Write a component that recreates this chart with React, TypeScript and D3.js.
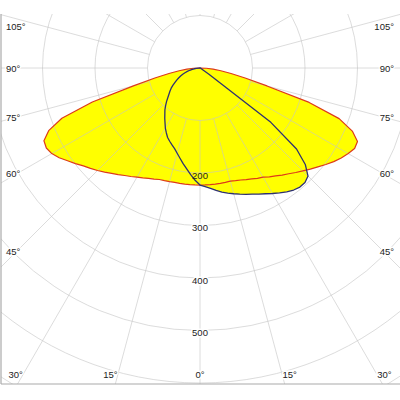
import React from 'react';
import * as d3 from 'd3';

// Gamma angles (degrees from nadir)
const gammaAngles = [0, 2.5, 5, 7.5, 10, 12.5, 15, 17.5, 20, 22.5, 25, 27.5, 30, 32.5, 35, 37.5, 40, 42.5, 45, 47.5, 50, 52.5, 55, 57.5, 60, 62.5, 65, 67.5, 70, 72.5, 75, 77.5, 80, 82.5, 85, 87.5, 90];

// Plane C0 (right) / C180 (left) – red outline
const redC0 = [223, 223, 223, 223, 223, 223, 223, 225, 227, 230, 233, 237, 240, 246, 251, 257, 263, 270, 277, 285, 293, 302, 311, 319, 326, 332, 331, 314, 282, 218, 132, 88, 60, 40, 25, 12, 0];
const redC180 = [223, 223, 223, 223, 223, 223, 224, 225, 226, 229, 232, 236, 240, 245, 250, 256, 262, 269, 276, 283, 290, 299, 308, 318, 326, 330, 328, 312, 280, 215, 130, 88, 60, 40, 25, 12, 0];

// Plane C90 (right) / C270 (left) – blue outline
const blueC90 = [223, 226, 230, 235, 240, 244, 248, 252, 256, 260, 265, 270, 276, 282, 288, 293, 296, 296, 291, 272, 240, 170, 20, 6, 3, 2, 2, 1, 1, 1, 1, 0, 0, 0, 0, 0, 0];
const blueC270 = [223, 214, 204, 194, 185, 176, 168, 161, 156, 151, 146, 139, 132, 124, 117, 110, 104, 97, 90, 83, 77, 72, 67, 61, 55, 50, 45, 40, 35, 30, 25, 20, 15, 11, 7, 3, 0];

const radiusTicks = [200, 300, 400, 500];
const gridCircles = [100, 200, 300, 400, 500, 600, 700, 800, 900, 1000];
const angleTicks = [0, 15, 30, 45, 60, 75, 90, 105];

const W = 400;
const H = 400;
const cx = 200;
const cy = 68;
const frame = { left: 1, top: 14, right: 400, bottom: 384 };

const rScale = d3.scaleLinear().domain([0, 100]).range([0, 52.5]);

type Pt = { theta: number; r: number };

function buildPoints(left: number[], right: number[]): Pt[] {
  const pts: Pt[] = [];
  for (let i = gammaAngles.length - 1; i >= 0; i--) {
    pts.push({ theta: -gammaAngles[i], r: left[i] });
  }
  for (let i = 1; i < gammaAngles.length; i++) {
    pts.push({ theta: gammaAngles[i], r: right[i] });
  }
  return pts;
}

const radial = d3
  .lineRadial<Pt>()
  .angle((d) => Math.PI - (d.theta * Math.PI) / 180)
  .radius((d) => rScale(d.r))
  .curve(d3.curveLinearClosed);

const redPath = radial(buildPoints(redC180, redC0)) || '';
const bluePath = radial(buildPoints(blueC270, blueC90)) || '';

const gridColor = '#c4c4c4';
const fontFamily = '"Liberation Sans", Arial, sans-serif';

export default function App() {
  const spokes = d3.range(0, 360, 15);
  const r0 = rScale(100);
  const r1 = rScale(1100);

  const labels: { x: number; y: number; anchor: string; text: string }[] = [];
  angleTicks.forEach((a) => {
    const sides = a === 0 ? [0] : [-1, 1];
    const t = (a * Math.PI) / 180;
    sides.forEach((side) => {
      const by = 374;
      if (a < 90) {
        const xb = cx + side * (by - cy) * Math.tan(t);
        if (a === 0 || (xb >= 17 && xb <= 383)) {
          labels.push({
            x: a === 0 ? cx : xb + side * 0.5,
            y: by,
            anchor: a === 0 ? 'middle' : side < 0 ? 'end' : 'start',
            text: `${a}°`,
          });
          return;
        }
      }
      let y = a === 90 ? cy : cy + (cx - 17) / Math.tan(t);
      y = Math.max(26, y);
      labels.push({
        x: side < 0 ? 6 : 394,
        y,
        anchor: side < 0 ? 'start' : 'end',
        text: `${a}°`,
      });
    });
  });

  return (
    <svg
      width={W}
      height={H}
      viewBox={`0 0 ${W} ${H}`}
      style={{ position: 'absolute', left: 0, top: 0, background: '#fff' }}
    >
      <defs>
        <clipPath id="frameClip">
          <rect x={frame.left} y={frame.top} width={frame.right - frame.left} height={frame.bottom - frame.top} />
        </clipPath>
      </defs>
      <g clipPath="url(#frameClip)">
        <g transform={`translate(${cx},${cy})`}>
          <path d={redPath} fill="#ffff00" stroke="none" />
          <path d={bluePath} fill="#ffff00" stroke="none" />
          {gridCircles.map((v) => (
            <circle key={v} r={rScale(v)} fill="none" stroke={gridColor} strokeOpacity={0.6} strokeWidth={1} />
          ))}
          {spokes.map((a) => {
            const t = (a * Math.PI) / 180;
            return (
              <line
                key={a}
                x1={r0 * Math.sin(t)}
                y1={r0 * Math.cos(t)}
                x2={r1 * Math.sin(t)}
                y2={r1 * Math.cos(t)}
                stroke={gridColor}
                strokeOpacity={0.6}
                strokeWidth={1}
              />
            );
          })}
          <path d={redPath} fill="none" stroke="#dd3a1a" strokeWidth={1.2} strokeLinejoin="round" />
          <path d={bluePath} fill="none" stroke="#2e3170" strokeWidth={1.3} strokeLinejoin="round" />
        </g>
      </g>
      <line x1={frame.left} y1={frame.top} x2={frame.left} y2={frame.bottom} stroke="#aaaaaa" strokeWidth={1.2} />
      <line x1={frame.left} y1={frame.bottom} x2={frame.right} y2={frame.bottom} stroke="#aaaaaa" strokeWidth={1.2} />
      {radiusTicks.map((v) => (
        <text
          key={v}
          x={cx}
          y={cy + rScale(v) + 2}
          textAnchor="middle"
          dominantBaseline="central"
          fontSize={9.5}
          fontFamily={fontFamily}
          fill="#222"
          stroke={v === 200 ? 'none' : '#fff'}
          strokeWidth={3}
          paintOrder="stroke"
        >
          {v}
        </text>
      ))}
      {labels.map((l, i) => (
        <text
          key={i}
          x={l.x}
          y={l.y}
          textAnchor={l.anchor}
          dominantBaseline="central"
          fontSize={9.5}
          fontFamily={fontFamily}
          fill="#222"
          stroke="#fff"
          strokeWidth={3}
          paintOrder="stroke"
        >
          {l.text}
        </text>
      ))}
    </svg>
  );
}
